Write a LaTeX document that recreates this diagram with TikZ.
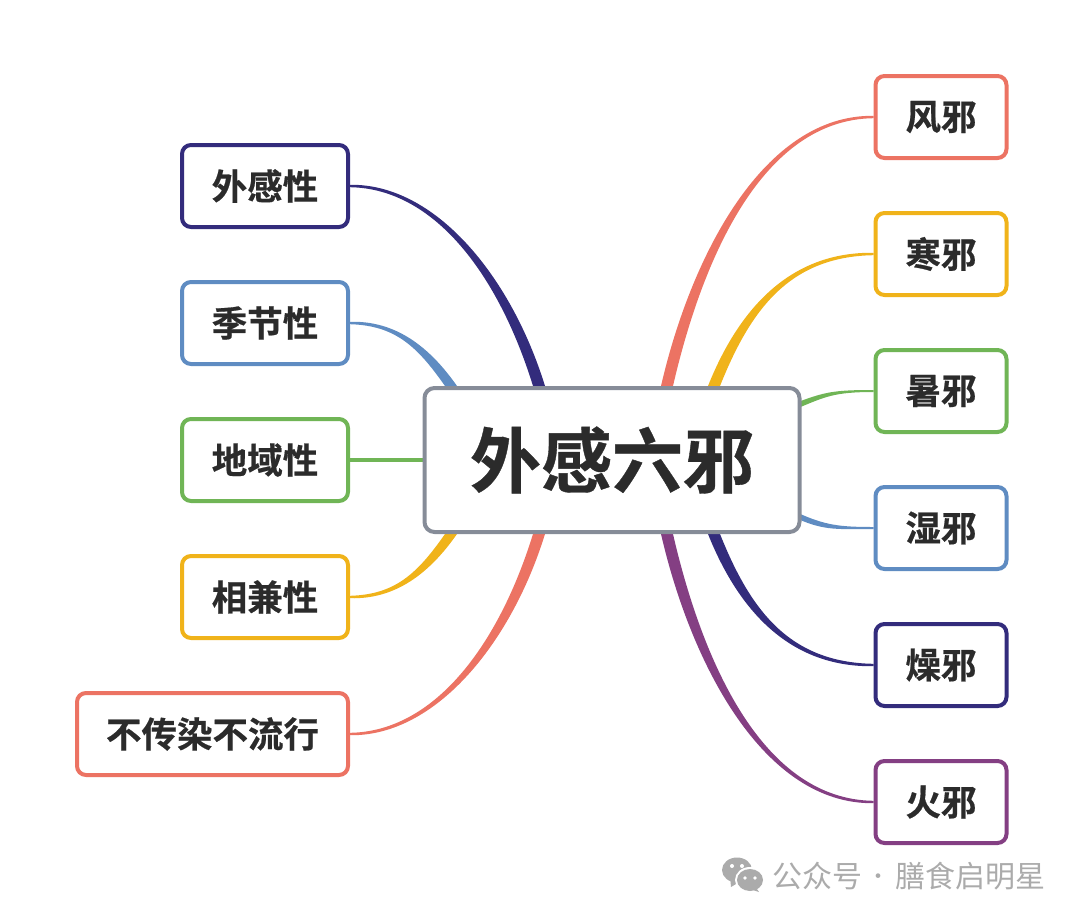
\documentclass[tikz,border=0pt]{standalone}
\usepackage{fontspec}
\setmainfont{Noto Sans CJK SC}[BoldFont={Noto Sans CJK SC Bold},BoldFeatures={FakeBold=0.5}]
\usetikzlibrary{positioning,calc,backgrounds}
\definecolor{inknavy}{HTML}{332C7C}
\definecolor{inksalmon}{HTML}{EC7363}
\definecolor{inkyellow}{HTML}{F0B31A}
\definecolor{inkgreen}{HTML}{70B556}
\definecolor{inkblue}{HTML}{5F8CC2}
\definecolor{inkpurple}{HTML}{843F83}
\definecolor{inkgrey}{HTML}{868C98}
\definecolor{inktext}{HTML}{2B2B2B}
\definecolor{inkmark}{HTML}{ABABAB}
\tikzstyle{leaf} = [draw, rectangle, fill=white, line width=4pt, rounded corners=9pt, minimum height=82pt, minimum width=131pt, inner sep=0pt, font=\fontsize{35.5}{36}\selectfont\bfseries, text=inktext]
\tikzstyle{leftleaf} = [leaf, minimum width=166pt]
\tikzstyle{centre} = [draw=inkgrey, rectangle, fill=white, line width=4pt, rounded corners=10pt, minimum height=144pt, minimum width=375pt, inner sep=0pt, font=\fontsize{71}{72}\selectfont\bfseries, text=inktext]
\tikzstyle{marktext} = [inner sep=0pt, font=\fontsize{30}{31}\selectfont, text=inkmark]
% colour, leaf anchor, end point, half width, leaf control, end control, side
\newcommand{\taper}[7]{
	\fill[#1] ($(#2)+(0,{-1.2*#7})$) .. controls ($(#2)+(#5,{-2.5*#7})$) and ($(#3)+(#6)+(-#4,0)$) .. ($(#3)+(-#4,0)$)
		-- ($(#3)+(#4,0)$) .. controls ($(#3)+(#6)+(#4,0)$) and ($(#2)+(#5,{2.5*#7})$) .. ($(#2)+(0,{1.2*#7})$) -- cycle;
}

\begin{document}
\begin{tikzpicture}[x=1pt,y=-1pt]
		\useasboundingbox (0,0) rectangle (1080,919);

		% centre
		\node[centre] (liuxie) at (612,460) {外感六邪};

		% right column
		\node[leaf,draw=inksalmon] (feng) at (941,117) {风邪};
		\node[leaf,draw=inkyellow,below= 51pt of feng] (han) {寒邪};
		\node[leaf,draw=inkgreen,below= 51pt of han] (shu) {暑邪};
		\node[leaf,draw=inkblue,below= 51pt of shu] (shi) {湿邪};
		\node[leaf,draw=inknavy,below= 51pt of shi] (zao) {燥邪};
		\node[leaf,draw=inkpurple,below= 51pt of zao] (huo) {火邪};

		% left column
		\node[leftleaf,draw=inknavy] (waigan) at (265,186) {外感性};
		\node[leftleaf,draw=inkblue,below= 51pt of waigan] (jijie) {季节性};
		\node[leftleaf,draw=inkgreen,below= 51pt of jijie] (diyu) {地域性};
		\node[leftleaf,draw=inkyellow,below= 51pt of diyu] (xiangjian) {相兼性};
		\node[leftleaf,draw=inksalmon,minimum width=271pt,below= 51pt of xiangjian.south east,anchor=north east] (buchuan) {不传染不流行};

		% ends on the centre box
		\coordinate (waiganend) at ($(liuxie.north)+(-73,0)$);
		\coordinate (jijieend) at ($(liuxie.north)+(-161,0)$);
		\coordinate (xiangjianend) at ($(liuxie.south)+(-161,0)$);
		\coordinate (buchuanend) at ($(liuxie.south)+(-73,0)$);
		\coordinate (fengend) at ($(liuxie.north)+(55,0)$);
		\coordinate (hanend) at ($(liuxie.north)+(102,0)$);
		\coordinate (zaoend) at ($(liuxie.south)+(102,0)$);
		\coordinate (huoend) at ($(liuxie.south)+(55,0)$);

		% join leaves to centre
		\begin{pgfonlayer}{background}
			\taper{inknavy}{waigan.east}{waiganend}{6}{85}{-34,-110}{-1}
			\taper{inkblue}{jijie.east}{jijieend}{6}{45}{-28,-40}{-1}
			\taper{inkyellow}{xiangjian.east}{xiangjianend}{6}{45}{-28,40}{1}
			\taper{inksalmon}{buchuan.east}{buchuanend}{6}{85}{-34,110}{1}
			\taper{inksalmon}{feng.west}{fengend}{6}{-110}{30,-130}{1}
			\taper{inkyellow}{han.west}{hanend}{6}{-85}{30,-75}{1}
			\taper{inknavy}{zao.west}{zaoend}{6}{-85}{30,75}{-1}
			\taper{inkpurple}{huo.west}{huoend}{6}{-110}{30,130}{-1}
			\fill[inkgreen] ($(diyu.east)+(0,-2)$) -- ($(liuxie.west)+(0,-2)$) -- ($(liuxie.west)+(0,2)$) -- ($(diyu.east)+(0,2)$) -- cycle;
			\fill[inkgreen] ($(shu.west)+(0,-1)$) .. controls ($(shu.west)+(-40,-1)$) and (825,392) .. (798,402) -- (798,408) .. controls (825,397) and ($(shu.west)+(-40,1)$) .. ($(shu.west)+(0,1)$) -- cycle;
			\fill[inkblue] ($(shi.west)+(0,-1)$) .. controls ($(shi.west)+(-35,-1)$) and (825,525) .. (798,513) -- (798,519) .. controls (825,531) and ($(shi.west)+(-35,1)$) .. ($(shi.west)+(0,1)$) -- cycle;
		\end{pgfonlayer}

		% mark
		\fill[inkmark] (737,870) ellipse (15 and 12.5);
		\fill[inkmark] (741,881) -- (731,887) -- (730,876) -- cycle;
		\fill[white] (750,880) ellipse (15 and 13);
		\fill[inkmark] (750,880) ellipse (13 and 11);
		\fill[inkmark] (755,886) -- (759,892) -- (750,889) -- cycle;
		\fill[white] (732,866) circle (2) (742,866) circle (2) (745,878) circle (1.8) (755,878) circle (1.8);
		\node[marktext,anchor=west] (gongzhong) at (772,876) {公众号};
		\node[marktext,anchor=center,font=\fontsize{22}{23}\selectfont] (dot) at (878,879) {·};
		\node[marktext,anchor=west] (mingxing) at (895,876) {膳食启明星};
	\end{tikzpicture}
\end{document}
